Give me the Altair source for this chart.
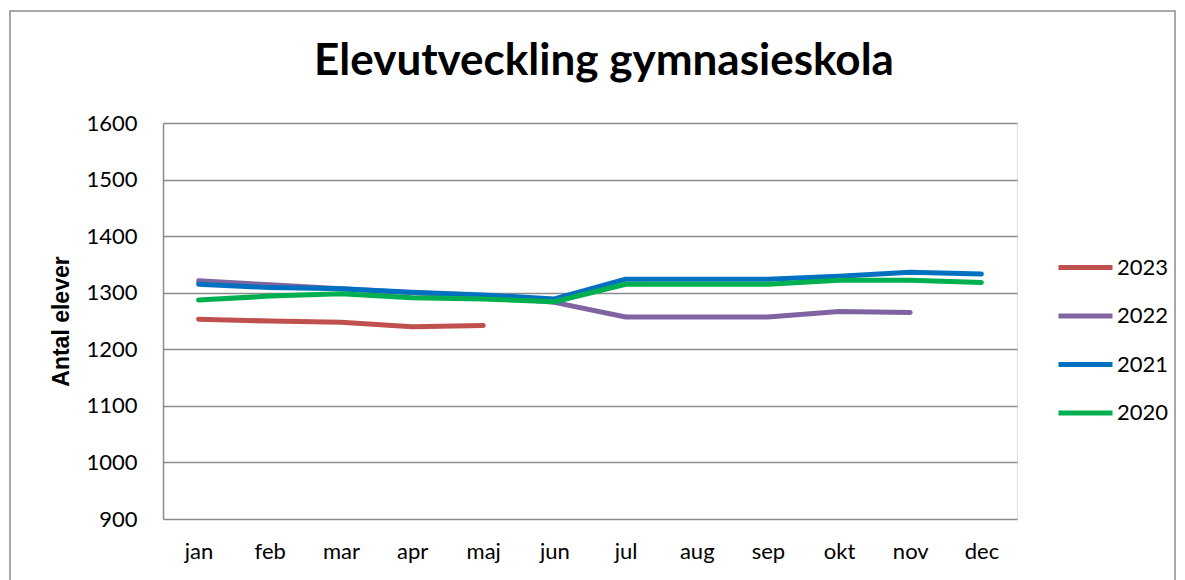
import altair as alt
import pandas as pd

months = ["jan", "feb", "mar", "apr", "maj", "jun", "jul", "aug", "sep", "okt", "nov", "dec"]
years = ["2023", "2022", "2021", "2020"]
colors = ["#C0504D", "#8064A2", "#0070C0", "#00B050"]

v2023 = [1253, 1250, 1248, 1240, 1242]
v2022 = [1321, 1314, 1307, 1300, 1294, 1283, 1257, 1257, 1257, 1267, 1265]
v2021 = [1315, 1309, 1307, 1301, 1296, 1289, 1324, 1324, 1324, 1329, 1336, 1333]
v2020 = [1287, 1294, 1298, 1291, 1289, 1284, 1315, 1315, 1315, 1322, 1322, 1318]

series = {"2023": v2023, "2022": v2022, "2021": v2021, "2020": v2020}
rows = []
for y in years:
    for m, v in zip(months, series[y]):
        rows.append({"month": m, "year": y, "value": v})
df = pd.DataFrame(rows)

FONT = "Lato"

lines = alt.Chart(df).mark_line(strokeWidth=5, strokeCap="round", strokeJoin="round").encode(
    x=alt.X("month:N", sort=months, scale=alt.Scale(paddingInner=0, paddingOuter=0.5, align=0.5),
            axis=alt.Axis(title=None, labelAngle=0, ticks=False, domain=False, grid=False,
                          labelFontSize=22, labelPadding=22, labelColor="#000", labelFont=FONT)),
    y=alt.Y("value:Q", scale=alt.Scale(domain=[900, 1600], nice=False, zero=False),
            axis=alt.Axis(title="Antal elever", values=list(range(900, 1601, 100)), ticks=False, format="d",
                          domainColor="#8c8c8c", domainWidth=1.5, gridColor="#8c8c8c", gridWidth=1.5,
                          labelFontSize=22, labelPadding=26, labelColor="#000", labelFont=FONT,
                          titleFontSize=23, titleFont="Liberation Sans", titleFontWeight="bold",
                          titleColor="#000", titlePadding=12)),
    color=alt.Color("year:N", sort=years, scale=alt.Scale(domain=years, range=colors),
                    legend=alt.Legend(title=None, orient="none", legendX=893, legendY=115,
                                      symbolType="stroke", symbolSize=2916, symbolStrokeWidth=5,
                                      labelFontSize=22, labelFont=FONT, labelColor="#000",
                                      labelOffset=2, rowPadding=7.5)),
    order=alt.Order("year:N"),
)

border = alt.Chart(pd.DataFrame({"a": [0]})).mark_rect(
    fill=None, stroke="#8c8c8c", strokeWidth=1.5, clip=False
).encode(x=alt.value(-153), x2=alt.value(1012), y=alt.value(-112), y2=alt.value(480))

chart = alt.layer(border, lines).properties(
    width=854, height=396,
    title=alt.TitleParams("Elevutveckling gymnasieskola", fontSize=44, font=FONT, fontWeight="bold",
                          color="#000", anchor="middle", dx=14, offset=-74),
    padding={"left": 155, "top": 115, "right": 160, "bottom": 62},
    autosize=alt.AutoSizeParams(type="none"),
).configure_view(stroke=None).configure(background="white")

chart.save("out.html", embed_options={"renderer": "svg", "actions": False})
